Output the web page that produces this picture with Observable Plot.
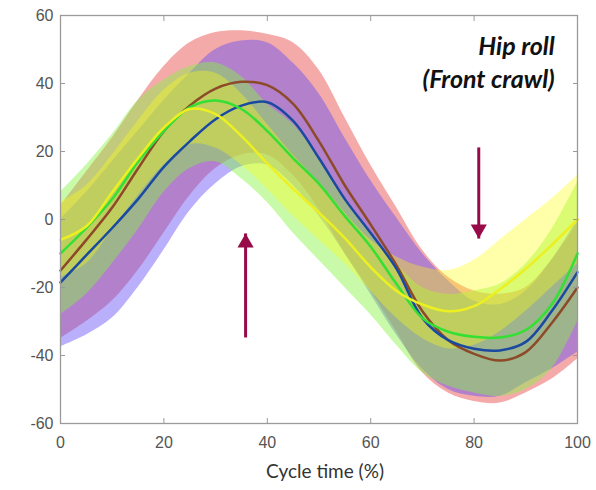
<!DOCTYPE html>
<html><head><meta charset="utf-8">
<script src="https://cdn.jsdelivr.net/npm/d3@7"></script>
<script src="https://cdn.jsdelivr.net/npm/@observablehq/plot@0.6"></script>
<style>
html,body{margin:0;padding:0;background:#fff;}
#chart{width:596px;height:490px;}
</style></head><body><div id="chart"></div>
<script>
// x: cycle time (%)
const cycle = [0,5,10,15,20,25,30,35,40,45,50,55,60,65,70,75,80,85,90,95,100];
// mean curves (degrees)
const brownMean  = [-15,-6,3.5,15,26,33.5,38.5,40.5,39.5,34,23,10,-1.5,-13.5,-27,-35.5,-39.5,-41.5,-39,-30.5,-20];
const blueMean   = [-18.5,-10.5,-2.5,6,15.5,23,29.5,33.5,34.5,29,18,6,-4,-14.5,-29,-35.5,-38,-38.5,-36,-27,-15.5];
const greenMean  = [-10,-2.5,6,17,26,33,35,32.5,26,18,10.5,1,-8,-19,-29,-33,-34.5,-34.7,-32.5,-25,-10];
const yellowMean = [-6,-2,8,18,27,32.5,31,24.5,16.5,9,2,-5.5,-14,-21,-25,-27,-25.5,-20.5,-14.5,-7.5,0];
// shaded band limits
const redHigh    = [4,14,24,35,45,52,55,55.5,54.5,52,44,30,16,3.5,-9,-17,-21,-22,-20,-12,-1];
const redLow     = [-35,-30,-24,-15,-4,7,15,19,19,13,3,-10,-21,-33,-45,-51,-53.5,-54,-51,-47,-41];
const blueHigh   = [0,8,17,26,35,43,50,52.5,52,46,37,24,11.5,0.5,-10,-18,-24,-25,-21,-12,0];
const blueLow    = [-37.5,-34,-29,-20,-9,2.5,10.5,15.5,16,10,1,-10,-22,-34,-44,-50,-52,-52,-48,-44,-39];
const greenHigh  = [8,16,25,35,41,45,46,42,34,28,18,6,-4,-13,-20,-22,-21,-19,-13,-3,11];
const greenLow   = [-28,-22,-13,-3,8,15,17,12,5,-4,-12,-20,-28,-37,-45,-49,-51,-52,-50,-44,-30];
const yellowHigh = [5,10,19,29,38,43,43,37,28,19,11,2,-6,-11,-14,-15,-12,-6,0,6,13];
const yellowLow  = [-17,-13,-3,7,16,22,21,16,9,1,-6,-13,-21,-29,-35,-38,-37,-33,-27,-20,-13];
// axes
const xTicks = [0,20,40,60,80,100];
const yTicks = [-60,-40,-20,0,20,40,60];
// annotations
const titleLines = ["Hip roll", "(Front crawl)"];
const titleX = [95.6, 95.6];
const titleY = [50.6, 41.1];
const arrowX = [35.8, 80.9];
const arrowFrom = [-34.7, 21.2];
const arrowTo = [-4.1, -5.6];
const arrowDir = ["up", "down"];
const xLabel = "Cycle time (%)";

const series = [
  {mean: brownMean, lo: redLow, hi: redHigh, band: "#e94242", alpha: 0.45, line: "#8c4a28"},
  {mean: blueMean, lo: blueLow, hi: blueHigh, band: "#634df4", alpha: 0.45, line: "#1a4aa0"},
  {mean: greenMean, lo: greenLow, hi: greenHigh, band: "#85f442", alpha: 0.45, line: "#33e033"},
  {mean: yellowMean, lo: yellowLow, hi: yellowHigh, band: "#ffff0c", alpha: 0.35, line: "#ecf020"}
];
const tables = series.map(s => cycle.map((c, i) => ({x: c, m: s.mean[i], lo: s.lo[i], hi: s.hi[i]})));
const arrows = arrowX.map((x, i) => ({x, from: arrowFrom[i], to: arrowTo[i], dir: arrowDir[i]}));
const titles = titleLines.map((t, i) => ({t, x: titleX[i], y: titleY[i]}));

const arrowColor = "#970b48";
const gray = "#9a9a9a";
const tickFont = "Liberation Sans, Arial, sans-serif";

const marks = [];
series.forEach((s, k) => marks.push(Plot.areaY(tables[k], {x: "x", y1: "lo", y2: "hi", fill: s.band, fillOpacity: s.alpha, curve: "catmull-rom"})));
series.forEach((s, k) => marks.push(Plot.line(tables[k], {x: "x", y: "m", stroke: s.line, strokeWidth: 2.5, curve: "catmull-rom"})));
marks.push(
  Plot.frame({stroke: gray, strokeWidth: 1.3}),
  Plot.axisX(xTicks, {anchor: "bottom", tickSize: 5, dy: -5, tickFormat: () => "", stroke: gray, label: null}),
  Plot.axisX(xTicks, {anchor: "top", tickSize: 5, dy: 5, tickFormat: () => "", stroke: gray, label: null}),
  Plot.axisY(yTicks, {anchor: "left", tickSize: 5, dx: 5, tickFormat: () => "", stroke: gray, label: null}),
  Plot.axisY(yTicks, {anchor: "right", tickSize: 5, dx: -5, tickFormat: () => "", stroke: gray, label: null}),
  Plot.axisX(xTicks, {anchor: "bottom", tickSize: 0, tickPadding: 13, tickFormat: d => String(d), fontSize: 16, fontFamily: tickFont, fill: "#555", label: null}),
  Plot.axisY(yTicks, {anchor: "left", tickSize: 0, tickPadding: 7, tickFormat: d => String(d), fontSize: 16, fontFamily: tickFont, fill: "#555", label: null}),
  Plot.link(arrows, {x1: "x", x2: "x", y1: "from", y2: "to", stroke: arrowColor, strokeWidth: 3}),
  Plot.dot(arrows.filter(a => a.dir === "up"), {x: "x", y: "to", symbol: "triangle", r: 6, fill: arrowColor, stroke: "none", dy: 9.3}),
  Plot.dot(arrows.filter(a => a.dir === "down"), {x: "x", y: "to", symbol: "triangle", r: 6, fill: arrowColor, stroke: "none", rotate: 180, dy: -9.3}),
  Plot.text(titles, {x: "x", y: "y", text: "t", textAnchor: "end", fontSize: 25, fontWeight: "bold", fontStyle: "italic", fontFamily: "Lato, sans-serif", fill: "#111"}),
  Plot.text([xLabel], {frameAnchor: "bottom", dy: 54, dx: 6, fontSize: 19, fontFamily: "Lato, sans-serif", fill: "#333"})
);

const chart = Plot.plot({
  width: 596, height: 490,
  marginTop: 15, marginRight: 19, marginBottom: 67, marginLeft: 60,
  x: {domain: [0, 100]},
  y: {domain: [-60, 60]},
  style: {fontFamily: tickFont, background: "white"},
  marks
});
document.getElementById("chart").appendChild(chart);
</script></body></html>
